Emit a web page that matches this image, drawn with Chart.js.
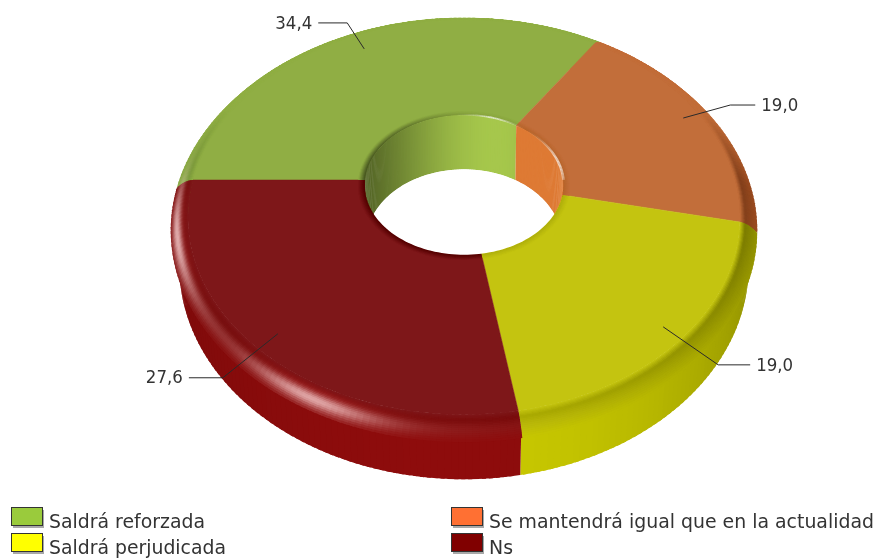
<!DOCTYPE html>
<html>
<head>
<meta charset="utf-8">
<style>
  html, body { margin: 0; padding: 0; background: #fff; }
  canvas { display: block; }
</style>
</head>
<body>
<canvas id="myChart" width="876" height="559"></canvas>
<script src="https://cdn.jsdelivr.net/npm/chart.js@4/dist/chart.umd.js"></script>
<script>
'use strict';

let categories = ['Saldrá reforzada', 'Se mantendrá igual que en la actualidad', 'Saldrá perjudicada', 'Ns'];
let values = [34.4, 19.0, 19.0, 27.6];
let valueLabels = ['34,4', '19,0', '19,0', '27,6'];

let legendColors = ['#9acb3c', '#ff7033', '#ffff00', '#800000'];
let topColors = [[144, 174, 68], [194, 110, 58], [196, 196, 16], [126, 23, 25]];
let wallColors = [[150, 190, 70], [215, 105, 45], [200, 200, 0], [142, 12, 12]];
let holeColors = [[158, 190, 72], [222, 122, 52], [212, 212, 16], [100, 0, 0]];

// leader line: anchor radius on the slice, then offsets elbow x, elbow y, end x
let leaderR = [0.9, 0.93, 0.93, 0.92];
let leaders = [[-17, -26, -46], [47, -13, 72], [55, 38, 87], [-55, 44, -89]];

// tilted disc: perspective strength and stretch of the chart.js radius
let tilt = 0.19;
let stretchX = 271 / 180;
let stretchY = 190 / 180;
let rimR = 1.06;
let rimZ = 8;
let baseR = 1.03;
let baseZ = 45;
let holeZ = 57;

function project(arc, r, th, z) {
  let X = r * Math.cos(th);
  let Y = r * Math.sin(th);
  let w = 1 - tilt * Y;
  let R = arc.outerRadius;
  return [arc.x + R * stretchX * X / w, arc.y + R * stretchY * Y / w + z / w];
}

function mix(a, b, t) {
  return [a[0] + (b[0] - a[0]) * t, a[1] + (b[1] - a[1]) * t, a[2] + (b[2] - a[2]) * t];
}
function times(c, m) {
  return [Math.min(255, c[0] * m), Math.min(255, c[1] * m), Math.min(255, c[2] * m)];
}
function css(c) {
  return 'rgb(' + Math.round(c[0]) + ',' + Math.round(c[1]) + ',' + Math.round(c[2]) + ')';
}
function bump(x, mid, width) {
  let d = (x - mid) / width;
  return Math.exp(-d * d);
}
function deg(th) {
  let d = th * 180 / Math.PI % 360;
  return d < 0 ? d + 360 : d;
}

function wallAt(i, th) {
  let s = Math.sin(th);
  let d = deg(th);
  let m = d > 90 && d < 270 ? 0.88 + 0.12 * s * s : 0.72 + 0.28 * s * s;
  return times(wallColors[i], m);
}

function shineAt(th) {
  let d = deg(th);
  return 0.14 * bump(d, 135, 50) + 0.66 * bump(d, 165, 15) + 0.6 * bump(d, 116, 12);
}

function holeAt(i, th) {
  let d = deg(th);
  if (i === 0) {
    let c = (1 + Math.cos((d - 290) * Math.PI / 180)) / 2;
    return times(holeColors[0], 0.5 + 0.55 * c * c * c);
  }
  return holeColors[i];
}

function quad(ctx, arc, r1, z1, r2, z2, a, b, color) {
  let p = [project(arc, r1, a, z1), project(arc, r1, b, z1), project(arc, r2, b, z2), project(arc, r2, a, z2)];
  ctx.beginPath();
  ctx.moveTo(p[0][0], p[0][1]);
  for (let k = 1; k < 4; k++) {
    ctx.lineTo(p[k][0], p[k][1]);
  }
  ctx.closePath();
  ctx.fillStyle = color;
  ctx.fill();
}

function ringPath(ctx, arc, r, z) {
  ctx.beginPath();
  for (let k = 0; k <= 180; k++) {
    let p = project(arc, r, k * Math.PI / 90, z);
    if (k === 0) {
      ctx.moveTo(p[0], p[1]);
    } else {
      ctx.lineTo(p[0], p[1]);
    }
  }
  ctx.closePath();
}

// steps overlap the next one a little so no seams show
function eachStep(arc, fn) {
  let n = Math.max(2, Math.ceil((arc.endAngle - arc.startAngle) / 0.02));
  let step = (arc.endAngle - arc.startAngle) / n;
  for (let k = 0; k < n; k++) {
    let end = k === n - 1 ? arc.endAngle : arc.startAngle + (k + 1.6) * step;
    fn(arc.startAngle + k * step, end, arc.startAngle + (k + 0.5) * step);
  }
}

// paints each doughnut arc as a tilted, bevelled slice, angles and radii come from chart.js
let tiltedDoughnut = {
  id: 'tiltedDoughnut',
  beforeDatasetsDraw(chart) {
    let ctx = chart.ctx;
    let arcs = chart.getDatasetMeta(0).data;
    ctx.save();

    // outer wall, runs a bit under the rim
    arcs.forEach(function (arc, i) {
      eachStep(arc, function (a, b, th) {
        quad(ctx, arc, baseR, baseZ, rimR - 0.015, rimZ * 0.5, a, b, css(wallAt(i, th)));
      });
    });

    // rounded rim between wall and top, each band runs under the next
    let steps = 16;
    for (let s = 0; s < steps; s++) {
      let t1 = s / steps;
      let t2 = Math.min(1, (s + 2) / steps);
      let tm = (s + 0.5) / steps;
      arcs.forEach(function (arc, i) {
        eachStep(arc, function (a, b, th) {
          let wall = wallAt(i, th);
          let shine = Math.min(0.9, shineAt(th));
          let fold = times(wall, 0.84 + 0.16 * Math.min(1, shine * 1.5));
          let c = tm < 0.7 ? mix(wall, fold, tm / 0.7) : mix(fold, topColors[i], (tm - 0.7) / 0.3);
          c = mix(c, [255, 222, 222], shine * bump(tm, 0.36, 0.26));
          let back = Math.min(1, Math.max(0, -Math.sin(th) * 2.5));
          c = mix(c, topColors[i], back);
          quad(ctx, arc, rimR - (rimR - 1) * t1, rimZ * (1 - t1) * (1 - t1), rimR - (rimR - 1) * t2, rimZ * (1 - t2) * (1 - t2), a, b, css(c));
        });
      });
    }

    let q = arcs[0].innerRadius / arcs[0].outerRadius;

    // flat top
    arcs.forEach(function (arc, i) {
      ctx.beginPath();
      let n = 120;
      for (let k = 0; k <= n; k++) {
        let th = arc.startAngle + (arc.endAngle - arc.startAngle) * k / n;
        let p = project(arc, 1, th, 0);
        if (k === 0) {
          ctx.moveTo(p[0], p[1]);
        } else {
          ctx.lineTo(p[0], p[1]);
        }
      }
      for (let k = n; k >= 0; k--) {
        let th = arc.startAngle + (arc.endAngle - arc.startAngle) * k / n;
        let p = project(arc, q, th, 0);
        ctx.lineTo(p[0], p[1]);
      }
      ctx.closePath();
      ctx.fillStyle = css(topColors[i]);
      ctx.strokeStyle = css(topColors[i]);
      ctx.lineWidth = 0.5;
      ctx.fill();
      ctx.stroke();
    });

    // soft edge round the hole
    let lip = 6;
    for (let s = 0; s < lip; s++) {
      arcs.forEach(function (arc, i) {
        eachStep(arc, function (a, b, th) {
          let c = mix(topColors[i], times(holeAt(i, th), 0.82), (s + 0.5) / lip);
          quad(ctx, arc, q + 0.024 * (1 - s / lip), 0, q, 0, a, b, css(c));
        });
      });
    }

    // hole: inner wall, then the see-through part
    ctx.save();
    ringPath(ctx, arcs[0], q, 0);
    ctx.clip();
    arcs.forEach(function (arc, i) {
      eachStep(arc, function (a, b, th) {
        quad(ctx, arc, q, 0, q - 0.006, holeZ, a, b, css(holeAt(i, th)));
      });
    });
    ringPath(ctx, arcs[0], q - 0.006, holeZ);
    ctx.fillStyle = '#ffffff';
    ctx.fill();
    ctx.restore();

    // glint on the back edge of the hole
    arcs.forEach(function (arc) {
      let n = Math.ceil((arc.endAngle - arc.startAngle) / 0.02);
      for (let k = 0; k < n; k++) {
        let a = arc.startAngle + k * (arc.endAngle - arc.startAngle) / n;
        let b = arc.startAngle + (k + 1) * (arc.endAngle - arc.startAngle) / n;
        let d = deg((a + b) / 2);
        let g = Math.max(bump(d, 288, 12), bump(d, 345, 18)) * 0.7;
        if (g > 0.03) {
          quad(ctx, arc, q + 0.006, 0, q - 0.004, 0, a, b, 'rgba(255,255,255,' + g.toFixed(3) + ')');
        }
      }
    });

    ctx.restore();
    return false;
  },
  afterDraw(chart) {
    let ctx = chart.ctx;
    let arcs = chart.getDatasetMeta(0).data;
    ctx.save();

    // value labels with leader lines
    ctx.font = '18px "DejaVu Sans"';
    ctx.textBaseline = 'middle';
    arcs.forEach(function (arc, i) {
      let mid = (arc.startAngle + arc.endAngle) / 2;
      let p = project(arc, leaderR[i], mid, 0);
      let d = leaders[i];
      ctx.beginPath();
      ctx.moveTo(p[0], p[1]);
      ctx.lineTo(p[0] + d[0], p[1] + d[1]);
      ctx.lineTo(p[0] + d[2], p[1] + d[1]);
      ctx.strokeStyle = '#2a2a2a';
      ctx.lineWidth = 1;
      ctx.stroke();
      ctx.fillStyle = '#333333';
      ctx.textAlign = d[2] < 0 ? 'right' : 'left';
      ctx.fillText(valueLabels[i], p[0] + d[2] + (d[2] < 0 ? -6 : 6), p[1] + d[1] + 1, 37);
    });

    // legend, two columns
    let colX = [12, 452];
    let rowY = [508, 534];
    let textW = [156, 385, 177, 24];
    ctx.font = '19px "DejaVu Sans"';
    ctx.textAlign = 'left';
    ctx.textBaseline = 'alphabetic';
    categories.forEach(function (name, i) {
      let x = colX[i % 2];
      let y = rowY[Math.floor(i / 2)];
      ctx.fillStyle = '#a8a8a8';
      ctx.fillRect(x + 1, y + 2, 31, 18);
      ctx.fillStyle = legendColors[i];
      ctx.strokeStyle = '#333333';
      ctx.lineWidth = 1;
      ctx.fillRect(x, y, 30, 17);
      ctx.strokeRect(x - 0.5, y - 0.5, 31, 18);
      ctx.fillStyle = '#333333';
      ctx.fillText(name, x + 37, y + 20, textW[i]);
    });
    ctx.restore();
  }
};

new Chart(document.getElementById('myChart'), {
  type: 'doughnut',
  data: {
    labels: categories,
    datasets: [{
      data: values,
      backgroundColor: legendColors,
      borderWidth: 0
    }]
  },
  options: {
    responsive: false,
    animation: false,
    rotation: -90,
    cutout: '36.6%',
    layout: { padding: { left: 92, right: 40, top: 0, bottom: 199 } },
    plugins: {
      legend: { display: false },
      tooltip: { enabled: false }
    }
  },
  plugins: [tiltedDoughnut]
});
</script>
</body>
</html>
